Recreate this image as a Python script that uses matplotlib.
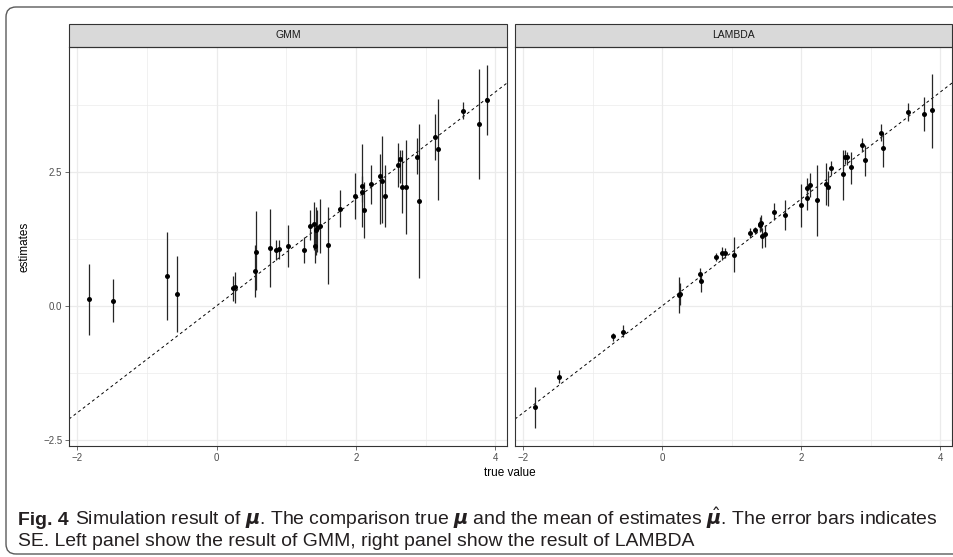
import matplotlib
matplotlib.use('agg')  # no display
import matplotlib.pyplot as plt
from matplotlib.patches import FancyBboxPatch, Rectangle
from matplotlib.transforms import IdentityTransform
from matplotlib.ticker import FixedLocator
from matplotlib import font_manager
import numpy as np

# true mu values (shared by both panels)
true_mu = [-1.83, -1.49, -0.71, -0.57, 0.24, 0.26, 0.55, 0.56, 0.77, 0.86,
           0.90, 1.03, 1.26, 1.34, 1.40, 1.41, 1.42, 1.44, 1.48, 1.60,
           1.77, 1.99, 2.08, 2.08, 2.12, 2.22, 2.35, 2.38, 2.42, 2.60,
           2.63, 2.66, 2.72, 2.87, 2.91, 3.14, 3.18, 3.53, 3.76, 3.88]

# GMM: mean of estimates and SE bar ends
gmm_est = [0.12, 0.10, 0.56, 0.22, 0.33, 0.36, 0.66, 1.00, 1.09, 1.05,
           1.06, 1.12, 1.04, 1.50, 1.53, 1.12, 1.42, 1.45, 1.49, 1.13,
           1.81, 2.06, 2.24, 2.13, 1.79, 2.28, 2.42, 2.34, 2.06, 2.64,
           2.75, 2.23, 2.23, 2.79, 1.96, 3.16, 2.93, 3.65, 3.40, 3.85]
gmm_lo = [-0.55, -0.31, -0.27, -0.49, 0.10, 0.06, 0.17, 0.30, 0.36, 0.86,
          0.87, 0.72, 0.80, 1.23, 1.05, 0.80, 0.95, 1.00, 0.99, 0.40,
          1.47, 1.62, 1.95, 1.47, 1.26, 1.90, 1.53, 1.55, 1.48, 2.23,
          2.30, 1.73, 1.34, 2.46, 0.53, 2.73, 1.98, 3.50, 2.37, 3.19]
gmm_hi = [0.78, 0.51, 1.38, 0.93, 0.56, 0.64, 1.14, 1.77, 1.81, 1.24,
          1.23, 1.52, 1.29, 1.80, 1.95, 1.40, 1.85, 1.80, 1.99, 1.84,
          2.16, 2.49, 2.42, 3.02, 2.31, 2.63, 2.84, 3.17, 2.63, 3.04,
          2.92, 2.92, 3.10, 3.13, 3.40, 3.59, 3.87, 3.81, 4.42, 4.50]

# LAMBDA: mean of estimates and SE bar ends
lam_est = [-1.89, -1.33, -0.57, -0.48, 0.20, 0.22, 0.59, 0.47, 0.91, 0.98,
           0.99, 0.96, 1.37, 1.41, 1.53, 1.51, 1.54, 1.30, 1.35, 1.76,
           1.70, 1.88, 2.01, 2.20, 2.26, 1.98, 2.28, 2.23, 2.58, 2.46,
           2.78, 2.78, 2.59, 3.00, 2.72, 3.23, 2.96, 3.63, 3.59, 3.66]
lam_lo = [-2.28, -1.44, -0.66, -0.59, -0.14, 0.02, 0.45, 0.26, 0.83, 0.86,
          0.90, 0.63, 1.26, 1.34, 1.42, 1.38, 1.40, 1.08, 1.11, 1.61,
          1.41, 1.47, 1.79, 2.01, 2.04, 1.31, 1.88, 1.87, 2.45, 1.98,
          2.65, 2.63, 2.28, 2.90, 2.42, 3.08, 2.60, 3.46, 3.26, 2.96]
lam_hi = [-1.52, -1.20, -0.50, -0.36, 0.54, 0.42, 0.70, 0.60, 0.98, 1.11,
          1.08, 1.29, 1.45, 1.47, 1.67, 1.60, 1.70, 1.45, 1.51, 1.92,
          1.98, 2.28, 2.26, 2.39, 2.48, 2.64, 2.67, 2.52, 2.70, 2.92,
          2.92, 2.87, 2.88, 3.13, 3.00, 3.40, 3.23, 3.79, 3.90, 4.34]

panel_names = ['GMM', 'LAMBDA']
x_ticks = [-2, 0, 2, 4]
x_ticklabels = ['\u22122', '0', '2', '4']
y_ticks = [-2.5, 0.0, 2.5]
y_ticklabels = ['\u22122.5', '0.0', '2.5']

W, H = 954, 557


def fx(px):
    return px / W


def fy(py):
    return 1 - py / H


installed = {f.name for f in font_manager.fontManager.ttflist}
axis_font = ['Liberation Sans', 'DejaVu Sans']
cap_font = 'Liberation Sans Narrow' if 'Liberation Sans Narrow' in installed else 'Liberation Sans'
plt.rcParams['font.family'] = axis_font
plt.rcParams['mathtext.fontset'] = 'dejavusans'

fig = plt.figure(figsize=(W / 100, H / 100), dpi=100)
fig.patch.set_facecolor('white')

# ggplot-like expansion of 5%
x_all = np.array(true_mu)
y_all = np.concatenate([gmm_lo, gmm_hi, lam_lo, lam_hi])
xpad = 0.05 * (x_all.max() - x_all.min())
ypad = 0.05 * (y_all.max() - y_all.min())
xlim = (x_all.min() - xpad, x_all.max() + xpad)
ylim = (y_all.min() - ypad, y_all.max() + ypad)

top, bottom = 47, 446
strip_h = 23
panels = [(69, 507, gmm_est, gmm_lo, gmm_hi), (515, 952, lam_est, lam_lo, lam_hi)]

for k, (x0, x1, est, lo, hi) in enumerate(panels):
    ax = fig.add_axes([fx(x0), fy(bottom), (x1 - x0) / W, (bottom - top) / H])
    ax.set_xlim(xlim)
    ax.set_ylim(ylim)
    ax.set_xticks(x_ticks)
    ax.set_yticks(y_ticks)
    ax.xaxis.set_minor_locator(FixedLocator([-1, 1, 3]))
    ax.yaxis.set_minor_locator(FixedLocator([-1.25, 1.25, 3.75]))
    ax.grid(which='major', color='#EBEBEB', lw=0.9)
    ax.grid(which='minor', color='#EBEBEB', lw=0.5)
    ax.set_axisbelow(True)
    ax.tick_params(which='minor', length=0)
    ax.tick_params(which='major', length=2.8, width=0.5, color='#333333',
                   labelsize=7, labelcolor='#4D4D4D', pad=2)
    ax.set_xticklabels(x_ticklabels)
    if k == 0:
        ax.set_yticklabels(y_ticklabels)
    else:
        ax.tick_params(left=False, labelleft=False)
    for s in ax.spines.values():
        s.set_color('#333333')
        s.set_linewidth(0.8)

    ax.axline((0, 0), slope=1, color='black', lw=0.7, ls=(0, (3, 3)), zorder=2)
    ax.vlines(true_mu, lo, hi, color='#262626', lw=0.9, zorder=3)
    ax.plot(true_mu, est, 'o', color='black', ms=3.6, mew=0, zorder=4)

    sh = strip_h / (bottom - top)
    ax.add_patch(Rectangle((0, 1), 1, sh, transform=ax.transAxes, clip_on=False,
                           fc='#D9D9D9', ec='#333333', lw=0.8))
    ax.text(0.5, 1 + sh / 2, panel_names[k], transform=ax.transAxes,
            ha='center', va='center', fontsize=7.5, color='#1A1A1A')

fig.text(fx(510), fy(473), 'true value', ha='center', va='center', fontsize=8.5)
fig.text(fx(25), fy(247), 'estimates', ha='center', va='center', fontsize=8.5, rotation=90)

# outer rounded frame of the journal figure
frame = FancyBboxPatch((6, H - 554), W + 30, 547, boxstyle='round,pad=0,rounding_size=10',
                       transform=IdentityTransform(), fill=False, ec='#5A5A5A', lw=1.0)
fig.add_artist(frame)

# caption, sized so that the first line spans the frame width
line1 = (r'Simulation result of $\boldsymbol{\mu}$. The comparison true $\boldsymbol{\mu}$ '
         r'and the mean of estimates $\hat{\boldsymbol{\mu}}$. The error bars indicates')
line2 = 'SE. Left panel show the result of GMM, right panel show the result of LAMBDA'
cap_x, cap_right = 18, 940
fs = 12.0
renderer = fig.canvas.get_renderer()
for it in range(3):
    t0 = fig.text(fx(cap_x), fy(525), 'Fig. 4', fontsize=fs, fontweight='bold',
                  family=[cap_font, 'DejaVu Sans'], color='#231F20')
    e0 = t0.get_window_extent(renderer=renderer)
    t1 = fig.text((e0.x1 + fs * 0.45) / W, fy(525), line1, fontsize=fs,
                  family=[cap_font, 'DejaVu Sans'], color='#231F20')
    e1 = t1.get_window_extent(renderer=renderer)
    if it < 2:
        fs = fs * (cap_right - cap_x) / (e1.x1 - e0.x0)
        t0.remove()
        t1.remove()
fig.text(fx(cap_x), fy(546), line2, fontsize=fs, family=[cap_font, 'DejaVu Sans'],
         color='#231F20')

fig.savefig('out.png', dpi=100)
